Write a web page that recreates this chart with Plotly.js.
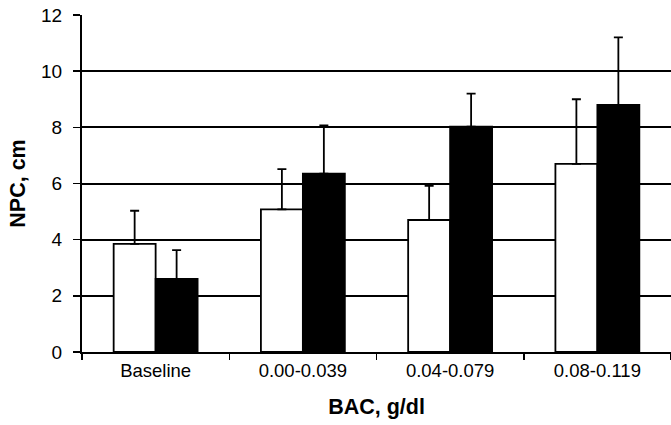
<!DOCTYPE html>
<html>
<head>
<meta charset="utf-8">
<script src="https://cdn.plot.ly/plotly-3.0.1.min.js"></script>
<style>html,body{margin:0;padding:0;background:#fff;}#chart{width:671px;height:425px;}</style>
</head>
<body>
<div id="chart"></div>
<script>
const categories = ["Baseline", "0.00-0.039", "0.04-0.079", "0.08-0.119"];
const whiteValues = [3.85, 5.08, 4.70, 6.70];
const whiteErrors = [1.18, 1.43, 1.22, 2.30];
const blackValues = [2.60, 6.35, 8.02, 8.80];
const blackErrors = [1.03, 1.72, 1.18, 2.40];
const yTicks = [0, 2, 4, 6, 8, 10, 12];

const traces = [
  {
    type: "bar", x: categories, y: whiteValues, name: "white",
    marker: {color: "#ffffff", line: {color: "#000000", width: 1.8}},
    error_y: {type: "data", array: whiteErrors, arrayminus: whiteErrors.map(() => 0), symmetric: false,
              color: "#000000", thickness: 1.8, width: 4.5}
  },
  {
    type: "bar", x: categories, y: blackValues, name: "black",
    marker: {color: "#000000", line: {color: "#000000", width: 1.8}},
    error_y: {type: "data", array: blackErrors, arrayminus: blackErrors.map(() => 0), symmetric: false,
              color: "#000000", thickness: 1.8, width: 4.5}
  }
];

const layout = {
  width: 671, height: 425,
  margin: {l: 82, r: 0, t: 15, b: 73},
  paper_bgcolor: "#ffffff", plot_bgcolor: "#ffffff",
  showlegend: false,
  barmode: "group",
  bargap: 0.43, bargroupgap: 0,
  font: {family: "Liberation Sans, Arial, sans-serif", color: "#000000", size: 18},
  xaxis: {
    type: "category",
    tickson: "boundaries",
    ticks: "outside", ticklen: 6, tickwidth: 1.5, tickcolor: "#000",
    showline: true, linecolor: "#000", linewidth: 2,
    showgrid: false, zeroline: false,
    tickfont: {size: 18.5},
    ticklabelstandoff: 1,
    title: {text: "<b>BAC, g/dl</b>", font: {size: 21.5}, standoff: 19}
  },
  yaxis: {
    range: [0, 12],
    tickvals: yTicks, ticktext: yTicks.map(String),
    ticks: "outside", ticklen: 7, tickwidth: 1.5, tickcolor: "#000",
    showline: true, linecolor: "#000", linewidth: 2,
    showgrid: true, gridcolor: "#000", gridwidth: 2,
    zeroline: false,
    tickfont: {size: 19},
    ticklabelstandoff: 7,
    title: {text: "<b>NPC, cm</b>", font: {size: 21.5}, standoff: 10}
  }
};

Plotly.newPlot("chart", traces, layout, {displayModeBar: false, staticPlot: true});
</script>
</body>
</html>
